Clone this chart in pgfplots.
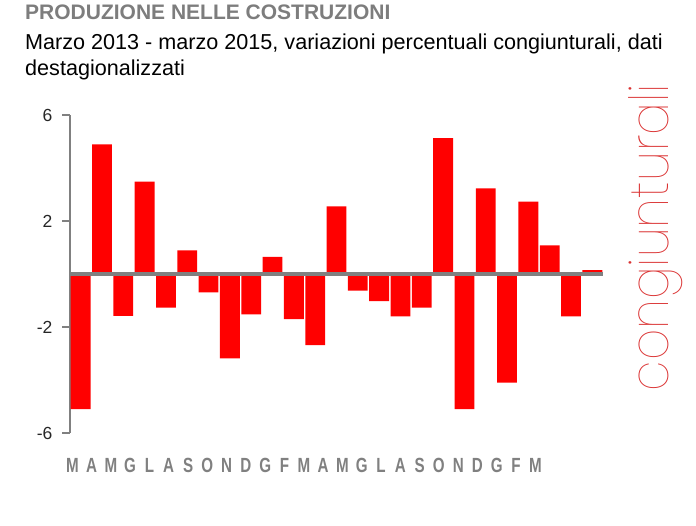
\documentclass[border=0pt]{standalone}
\usepackage{fontspec}
\usepackage{graphicx}
\usepackage{pgfplots}
\pgfplotsset{compat=1.18}
\setmainfont{Liberation Sans}
\newfontfamily\condsans{Liberation Sans}[FakeStretch=0.74]
\IfFontExistsTF{Poppins Thin}{\newfontfamily\thinfont{Poppins Thin}}{%
  \IfFontExistsTF{Poppins ExtraLight}{\newfontfamily\thinfont{Poppins ExtraLight}}{\newfontfamily\thinfont{Liberation Sans}}}
\definecolor{axgray}{RGB}{128,128,128}
\definecolor{titlegray}{RGB}{125,125,125}
\definecolor{barred}{RGB}{255,0,0}
\definecolor{sidered}{RGB}{218,50,50}

\begin{document}
\begin{tikzpicture}
\path[use as bounding box] (0,0) rectangle (696bp,526bp);

% titles
\node[anchor=base west, inner sep=0, text=titlegray, font=\fontsize{21bp}{24bp}\selectfont\bfseries]
  at (25bp,506bp) {PRODUZIONE NELLE COSTRUZIONI};
\node[anchor=base west, inner sep=0, font=\fontsize{21.6bp}{24bp}\selectfont]
  at (25bp,476bp) {Marzo 2013 - marzo 2015, variazioni percentuali congiunturali, dati};
\node[anchor=base west, inner sep=0, font=\fontsize{21.6bp}{24bp}\selectfont]
  at (25bp,450bp) {destagionalizzati};

\begin{axis}[
    at={(70bp,93bp)}, anchor=south west,
    scale only axis,
    width=533bp, height=318bp,
    xmin=-0.5, xmax=24.5,
    ymin=-6, ymax=6,
    axis lines=left,
    axis line style={-},
    x axis line style={draw=none},
    y axis line style={draw=axgray, line width=2.5bp},
    ytick={-6,-2,2,6},
    yticklabels={-6,-2,2,6},
    ytick style={draw=axgray, line width=2.5bp},
    tick align=outside,
    major tick length=8bp,
    yticklabel style={font=\fontsize{17.5bp}{20bp}\selectfont, text=black!85, xshift=-6bp},
    xtick={-0.39,0.51,1.42,2.32,3.23,4.13,5.04,5.94,6.85,7.75,8.66,9.56,10.47,
           11.37,12.28,13.18,14.09,14.99,15.90,16.80,17.71,18.61,19.52,20.42,21.33},
    xticklabels={M,A,M,G,L,A,S,O,N,D,G,F,M,A,M,G,L,A,S,O,N,D,G,F,M},
    xtick style={draw=none},
    xticklabel style={font=\condsans\fontsize{20.5bp}{22bp}\selectfont\bfseries, text=axgray,
                      anchor=base, yshift=-32bp},
    clip=false,
]
\addplot[ybar, bar width=0.93, fill=barred, draw=none] coordinates {
    (0,-5.1) (1,4.89) (2,-1.58) (3,3.49) (4,-1.27) (5,0.89) (6,-0.69)
    (7,-3.18) (8,-1.52) (9,0.65) (10,-1.70) (11,-2.68) (12,2.55)
    (13,-0.63) (14,-1.02) (15,-1.60) (16,-1.27) (17,5.13) (18,-5.10)
    (19,3.23) (20,-4.10) (21,2.73) (22,1.08) (23,-1.60) (24,0.15)
};
\addplot[draw=axgray, line width=3.5bp, mark=none] coordinates {(-0.5,0) (24.5,0)};
\end{axis}

\node[rotate=90, anchor=base, inner sep=0, text=sidered]
  at (668bp,288bp) {\resizebox{307bp}{\height}{\fontsize{54bp}{54bp}\selectfont\thinfont congiunturali}};
\end{tikzpicture}
\end{document}
